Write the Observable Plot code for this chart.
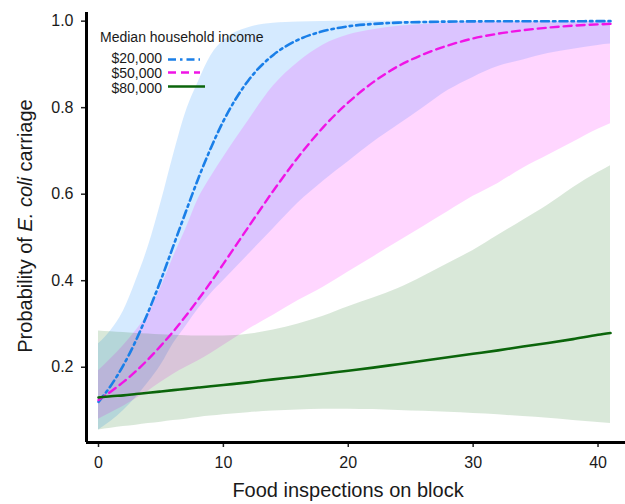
<!DOCTYPE html>
<html>
<head>
<meta charset="utf-8">
<script src="https://cdn.jsdelivr.net/npm/d3@7"></script>
<script src="https://cdn.jsdelivr.net/npm/@observablehq/plot@0.6"></script>
<style>
  html, body { margin: 0; padding: 0; background: #fff; }
  #chart { position: relative; width: 625px; height: 504px; }
</style>
</head>
<body>
<div id="chart"></div>
<script>
// ---- data ----
const inspections = [0,1,2,3,4,5,6,7,8,9,10,12,14,16,18,20,22,24,26,28,30,32,34,36,38,40,41];

const series = ["$20,000", "$50,000", "$80,000"];

const fit20 = [0.120,0.158,0.205,0.262,0.329,0.402,0.481,0.560,0.637,0.707,0.769,0.863,0.922,0.957,0.977,0.988,0.9935,0.9966,0.998,0.999,0.9995,0.9997,0.9998,0.9999,0.9999,1.0,1.0];
const lo20  = [0.055,0.075,0.100,0.130,0.165,0.205,0.255,0.295,0.335,0.370,0.400,0.460,0.520,0.580,0.630,0.675,0.720,0.760,0.800,0.840,0.870,0.895,0.910,0.925,0.935,0.944,0.947];
const hi20  = [0.254,0.285,0.330,0.400,0.480,0.580,0.690,0.790,0.860,0.920,0.955,0.985,0.995,0.998,0.999,0.9995,0.9997,0.9998,0.9999,1.0,1.0,1.0,1.0,1.0,1.0,1.0,1.0];

const fit50 = [0.124,0.144,0.166,0.191,0.219,0.250,0.283,0.319,0.357,0.397,0.439,0.524,0.608,0.686,0.755,0.812,0.859,0.896,0.923,0.944,0.960,0.971,0.979,0.985,0.9895,0.9925,0.9937];
const lo50  = [0.080,0.095,0.110,0.127,0.145,0.165,0.184,0.200,0.215,0.232,0.250,0.287,0.320,0.354,0.385,0.420,0.455,0.490,0.525,0.560,0.595,0.625,0.660,0.690,0.720,0.750,0.763];
const hi50  = [0.192,0.220,0.250,0.285,0.325,0.385,0.455,0.520,0.590,0.640,0.685,0.770,0.850,0.905,0.945,0.968,0.980,0.988,0.992,0.995,0.997,0.997,0.997,0.997,0.997,0.997,0.997];

const fit80 = [0.130,0.133,0.135,0.138,0.141,0.144,0.147,0.150,0.153,0.156,0.159,0.165,0.172,0.178,0.185,0.192,0.199,0.207,0.215,0.223,0.231,0.239,0.248,0.256,0.265,0.275,0.279];
const lo80  = [0.055,0.059,0.063,0.066,0.070,0.073,0.077,0.080,0.084,0.087,0.090,0.095,0.099,0.101,0.103,0.103,0.102,0.100,0.098,0.096,0.093,0.090,0.086,0.082,0.077,0.072,0.070];
const hi80  = [0.284,0.282,0.280,0.278,0.277,0.275,0.274,0.273,0.272,0.272,0.272,0.276,0.286,0.300,0.318,0.340,0.360,0.382,0.410,0.440,0.470,0.505,0.540,0.575,0.615,0.650,0.666];

const xTicks = [0,10,20,30,40];
const yTicks = [0.2,0.4,0.6,0.8,1.0];

const legendTitle = "Median household income";
const xTitle = "Food inspections on block";

// ---- build table ----
const fits = [fit20, fit50, fit80], los = [lo20, lo50, lo80], his = [hi20, hi50, hi80];
const rows = [];
series.forEach((s, k) => inspections.forEach((x, i) => rows.push({series: s, x, fit: fits[k][i], lo: los[k][i], hi: his[k][i]})));
const only = s => rows.filter(d => d.series === s);

const styles = {
  "$20,000": {fill: "#1e90ff", fo: 0.19, stroke: "#1a7fe8", dash: "8,4,2.5,4", w: 2.6},
  "$50,000": {fill: "#ff00ff", fo: 0.16, stroke: "#f014e6", dash: "8,5", w: 2.4},
  "$80,000": {fill: "#006400", fo: 0.15, stroke: "#0b650b", dash: null, w: 2.6}
};

const xDom = [-0.961, 42.2], yDom = [0.026, 1.020];
const marks = [];
for (const s of series) {
  const st = styles[s];
  marks.push(Plot.areaY(only(s), {x: "x", y1: "lo", y2: "hi", fill: st.fill, fillOpacity: st.fo, curve: "monotone-x"}));
}
for (const s of series) {
  const st = styles[s];
  marks.push(Plot.line(only(s), {x: "x", y: "fit", stroke: st.stroke, strokeWidth: st.w, strokeDasharray: st.dash, curve: "monotone-x"}));
}
marks.push(Plot.axisX({ticks: xTicks, tickSize: 5, tickPadding: 9, fontSize: 16, label: null, stroke: "#222", strokeWidth: 1.5}));
marks.push(Plot.axisY({ticks: yTicks, tickSize: 5, tickPadding: 8, fontSize: 16, label: null, tickFormat: d3.format(".1f"), stroke: "#222", strokeWidth: 1.5}));
marks.push(Plot.ruleY([yDom[0]], {stroke: "#000", strokeWidth: 3}));
marks.push(Plot.ruleX([xDom[0]], {stroke: "#000", strokeWidth: 3}));

const svg = Plot.plot({
  width: 625, height: 504,
  marginLeft: 86, marginRight: 0, marginTop: 12, marginBottom: 62,
  x: {domain: xDom},
  y: {domain: yDom},
  style: {fontFamily: "'Liberation Sans', Arial, sans-serif", color: "#1a1a1a", background: "#fff", overflow: "visible"},
  marks
});
document.getElementById("chart").appendChild(svg);

// ---- titles and legend ----
const g = d3.select(svg).append("g").attr("font-family", "'Liberation Sans', Arial, sans-serif").attr("fill", "#1a1a1a");
g.append("text").attr("x", 348).attr("y", 497).attr("text-anchor", "middle").attr("font-size", 20).text(xTitle);
const yt = g.append("text").attr("transform", "translate(32,226) rotate(-90)").attr("text-anchor", "middle").attr("font-size", 20);
yt.append("tspan").text("Probability of ");
yt.append("tspan").attr("font-style", "italic").text("E. coli");
yt.append("tspan").text(" carriage");

g.append("text").attr("x", 100).attr("y", 42).attr("text-anchor", "start").attr("font-size", 14).text(legendTitle);
const legY = [63.3, 77.7, 92.5], lineY = [59.5, 72.5, 86.5], lineEnd = [200, 200, 205];
series.forEach((s, k) => {
  const st = styles[s];
  g.append("text").attr("x", 162).attr("y", legY[k]).attr("text-anchor", "end").attr("font-size", 14).text(s);
  g.append("line").attr("x1", 168).attr("x2", lineEnd[k]).attr("y1", lineY[k]).attr("y2", lineY[k])
    .attr("stroke", st.stroke).attr("stroke-width", st.w).attr("stroke-dasharray", st.dash);
});
</script>
</body>
</html>
